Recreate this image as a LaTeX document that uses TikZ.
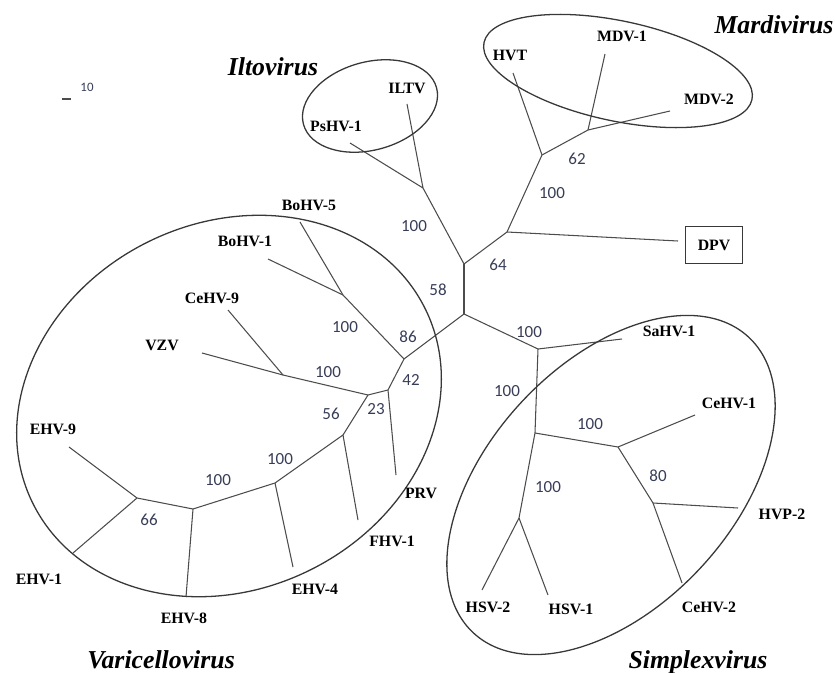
\documentclass[tikz,border=0pt]{standalone}
\usepackage{fontspec}
\setmainfont{Liberation Serif}
\newfontfamily\bootfont{Carlito}
\usetikzlibrary{calc}
\definecolor{branchgray}{rgb}{0.3,0.3,0.3}
\definecolor{cladegray}{rgb}{0.22,0.22,0.22}
\definecolor{bootblue}{rgb}{0.22,0.24,0.34}

\begin{document}
\begin{tikzpicture}[x=0.03cm,y=-0.03cm,
    branch/.style={draw=branchgray,line width=0.9pt},
    clade/.style={draw=cladegray,line width=1.1pt},
    taxon/.style={font=\fontsize{13.5}{15}\selectfont\bfseries,inner sep=0pt},
    boot/.style={font=\bootfont\fontsize{14.5}{16}\selectfont,text=bootblue,inner sep=0pt},
    genus/.style={font=\fontsize{22}{24}\selectfont\bfseries\itshape,inner sep=0pt}]
  \useasboundingbox (0,0) rectangle (835,673);
  % inner nodes of the tree
  \foreach \n/\x/\y in {c1/464/264, c2/464/314, i0/423/188, m0/507/232, m1/542/155, m2/588/130,
      s0/538/349, s1/535/433, s2/519/518, s3/618/447, s4/653/503,
      v0/404/359, b0/343/295, v1/388/390, v2/368/395, v3/283/375,
      v4/343/435, v5/275/483, v6/193/509, v7/137/498} {%
    \coordinate (\n) at (\x,\y);
  }
  % tips of the branches
  \foreach \n/\x/\y in {iltv/407/104, pshv1/350/143, hvt/513/73, mdv1/605/54, mdv2/670/111, dpv/678/241,
      sahv1/622/339, cehv1/695/415, hvp2/738/508, cehv2/682/583, hsv2/482/590, hsv1/548/595,
      bohv5/300/222, bohv1/268/259, cehv9/228/310, vzv/202/353, prv/396/475, fhv1/358/520,
      ehv4/293/567, ehv8/186/597, ehv9/69/447, ehv1/73/553} {%
    \coordinate (t-\n) at (\x,\y);
  }
  % branches
  \foreach \a/\b in {c1/c2, c1/i0, c1/m0, i0/t-iltv, i0/t-pshv1, m0/m1, m0/t-dpv, m1/t-hvt, m1/m2,
      m2/t-mdv1, m2/t-mdv2, c2/s0, s0/t-sahv1, s0/s1, s1/s2, s1/s3, s2/t-hsv2, s2/t-hsv1,
      s3/t-cehv1, s3/s4, s4/t-hvp2, s4/t-cehv2, c2/v0, v0/b0, b0/t-bohv5, b0/t-bohv1, v0/v1,
      v1/t-prv, v1/v2, v2/v3, v3/t-cehv9, v3/t-vzv, v2/v4, v4/t-fhv1, v4/v5, v5/t-ehv4,
      v5/v6, v6/t-ehv8, v6/v7, v7/t-ehv9, v7/t-ehv1} {%
    \draw[branch] (\a) -- (\b);
  }
  % clades
  \draw[clade,rotate around={15.5:(370,106)}] (370,106) ellipse (69 and 44);
  \draw[clade,rotate around={-12:(618,71)}] (618,71) ellipse (137 and 50);
  \draw[clade,rotate around={26.5:(229,406)}] (229,406) ellipse (219 and 183);
  \draw[clade,rotate around={47:(611,485)}] (611,485) ellipse (202 and 122);
  % names
  \foreach \n/\x/\y/\t in {iltv/407/88/ILTV, pshv1/336/126/PsHV-1, hvt/510/55/HVT, mdv1/622/36/MDV-1,
      mdv2/709/99/MDV-2, sahv1/669/331/SaHV-1, cehv1/729/403/CeHV-1, hvp2/782/514/HVP-2,
      cehv2/709/607/CeHV-2, hsv2/488/607/HSV-2, hsv1/571/609/HSV-1, prv/421/493/PRV,
      fhv1/392/541/FHV-1, ehv4/315/589/EHV-4, ehv8/184/618/EHV-8, ehv1/39/579/EHV-1,
      ehv9/53/429/EHV-9, vzv/162/345/VZV, cehv9/212/298/CeHV-9, bohv1/245/241/BoHV-1,
      bohv5/309/205/BoHV-5} {%
    \node[taxon] (l-\n) at (\x,\y) {\t};
  }
  \node[taxon,draw=cladegray,line width=0.9pt,minimum width=1.71cm,minimum height=1.11cm] (l-dpv) at (714,245) {DPV};
  % bootstrap values
  \foreach \n/\x/\y/\t in {b1/414/226/100, b2/438/290/58, b3/498/265/64, b4/552/193/100, b5/577/159/62,
      b6/529/332/100, b7/507/391/100, b8/590/424/100, b9/658/476/80, b10/548/487/100,
      b11/408/337/86, b12/411/380/42, b13/345/327/100, b14/328/372/100, b15/331/414/56,
      b16/376/409/23, b17/280/459/100, b18/218/480/100, b19/149/520/66} {%
    \node[boot] (\n) at (\x,\y) {\t};
  }
  % genera
  \node[genus] (ilto) at (273,67) {Iltovirus};
  \node[genus] (mardi) at (774,25) {Mardivirus};
  \node[genus] (vari) at (161,660) {Varicellovirus};
  \node[genus] (simplex) at (698,662) {Simplexvirus};
  % scale
  \coordinate (sc-a) at (62,99);
  \coordinate (sc-b) at (71,99);
  \draw[branch] (sc-a) -- (sc-b);
  \node[boot,font=\bootfont\fontsize{11}{12}\selectfont] (sc-t) at (87,87) {10};
\end{tikzpicture}
\end{document}
